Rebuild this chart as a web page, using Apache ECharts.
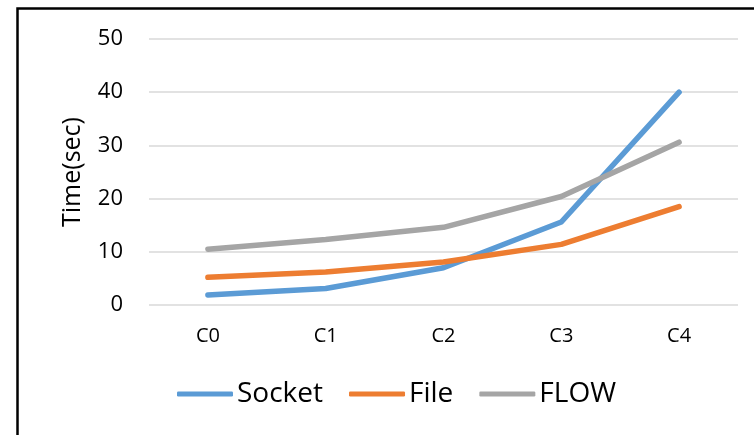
<!DOCTYPE html>
<html>
<head>
<meta charset="utf-8">
<script src="https://cdn.jsdelivr.net/npm/echarts@6/dist/echarts.min.js"></script>
<style>
html,body{margin:0;padding:0;background:#fff;}
#main{width:754px;height:435px;}
</style>
</head>
<body>
<div id="main"></div>
<script>
const categories = ['C0', 'C1', 'C2', 'C3', 'C4'];
const socket = [1.9, 3.1, 7.0, 15.6, 40.0];
const file = [5.2, 6.2, 8.1, 11.4, 18.5];
const flow = [10.5, 12.3, 14.6, 20.4, 30.6];
const seriesNames = ['Socket', 'File', 'FLOW'];
const colors = ['#5B9BD5', '#ED7D31', '#A5A5A5'];

const chart = echarts.init(document.getElementById('main'), null, {renderer: 'canvas'});
const font = '"Open Sans", sans-serif';
function mk(name, data, color) {
  return {
    name: name, type: 'line', data: data, symbol: 'none', smooth: false,
    lineStyle: {color: color, width: 5.5, cap: 'round', join: 'round'},
    itemStyle: {color: color}
  };
}
chart.setOption({
  animation: false,
  backgroundColor: '#fff',
  graphic: [{
    type: 'rect', z: 100, silent: true,
    shape: {x: 17.5, y: 8.5, width: 900, height: 600},
    style: {fill: 'none', stroke: '#000', lineWidth: 2.5}
  }],
  grid: {left: 149, right: 16, top: 39, bottom: 130, containLabel: false},
  legend: {
    data: seriesNames,
    left: 177, top: 380, padding: 0,
    itemWidth: 56, itemHeight: 5, itemGap: 26,
    icon: 'roundRect',
    textStyle: {fontFamily: font, fontSize: 28, color: '#000', padding: [0, 0, 0, -1]},
  },
  xAxis: {
    type: 'category', data: categories, boundaryGap: true,
    axisLine: {show: false}, axisTick: {show: false},
    axisLabel: {fontFamily: font, fontSize: 20, color: '#000', margin: 21}
  },
  yAxis: {
    type: 'value', min: 0, max: 50, interval: 10,
    name: 'Time(sec)', nameLocation: 'middle', nameGap: 64,
    nameTextStyle: {fontFamily: font, fontSize: 25, color: '#000'},
    axisLine: {show: false}, axisTick: {show: false},
    axisLabel: {fontFamily: font, fontSize: 22, color: '#000', margin: 26},
    splitLine: {lineStyle: {color: '#D9D9D9', width: 1.5}}
  },
  series: [
    mk(seriesNames[0], socket, colors[0]),
    mk(seriesNames[1], file, colors[1]),
    mk(seriesNames[2], flow, colors[2])
  ]
});
</script>
</body>
</html>
